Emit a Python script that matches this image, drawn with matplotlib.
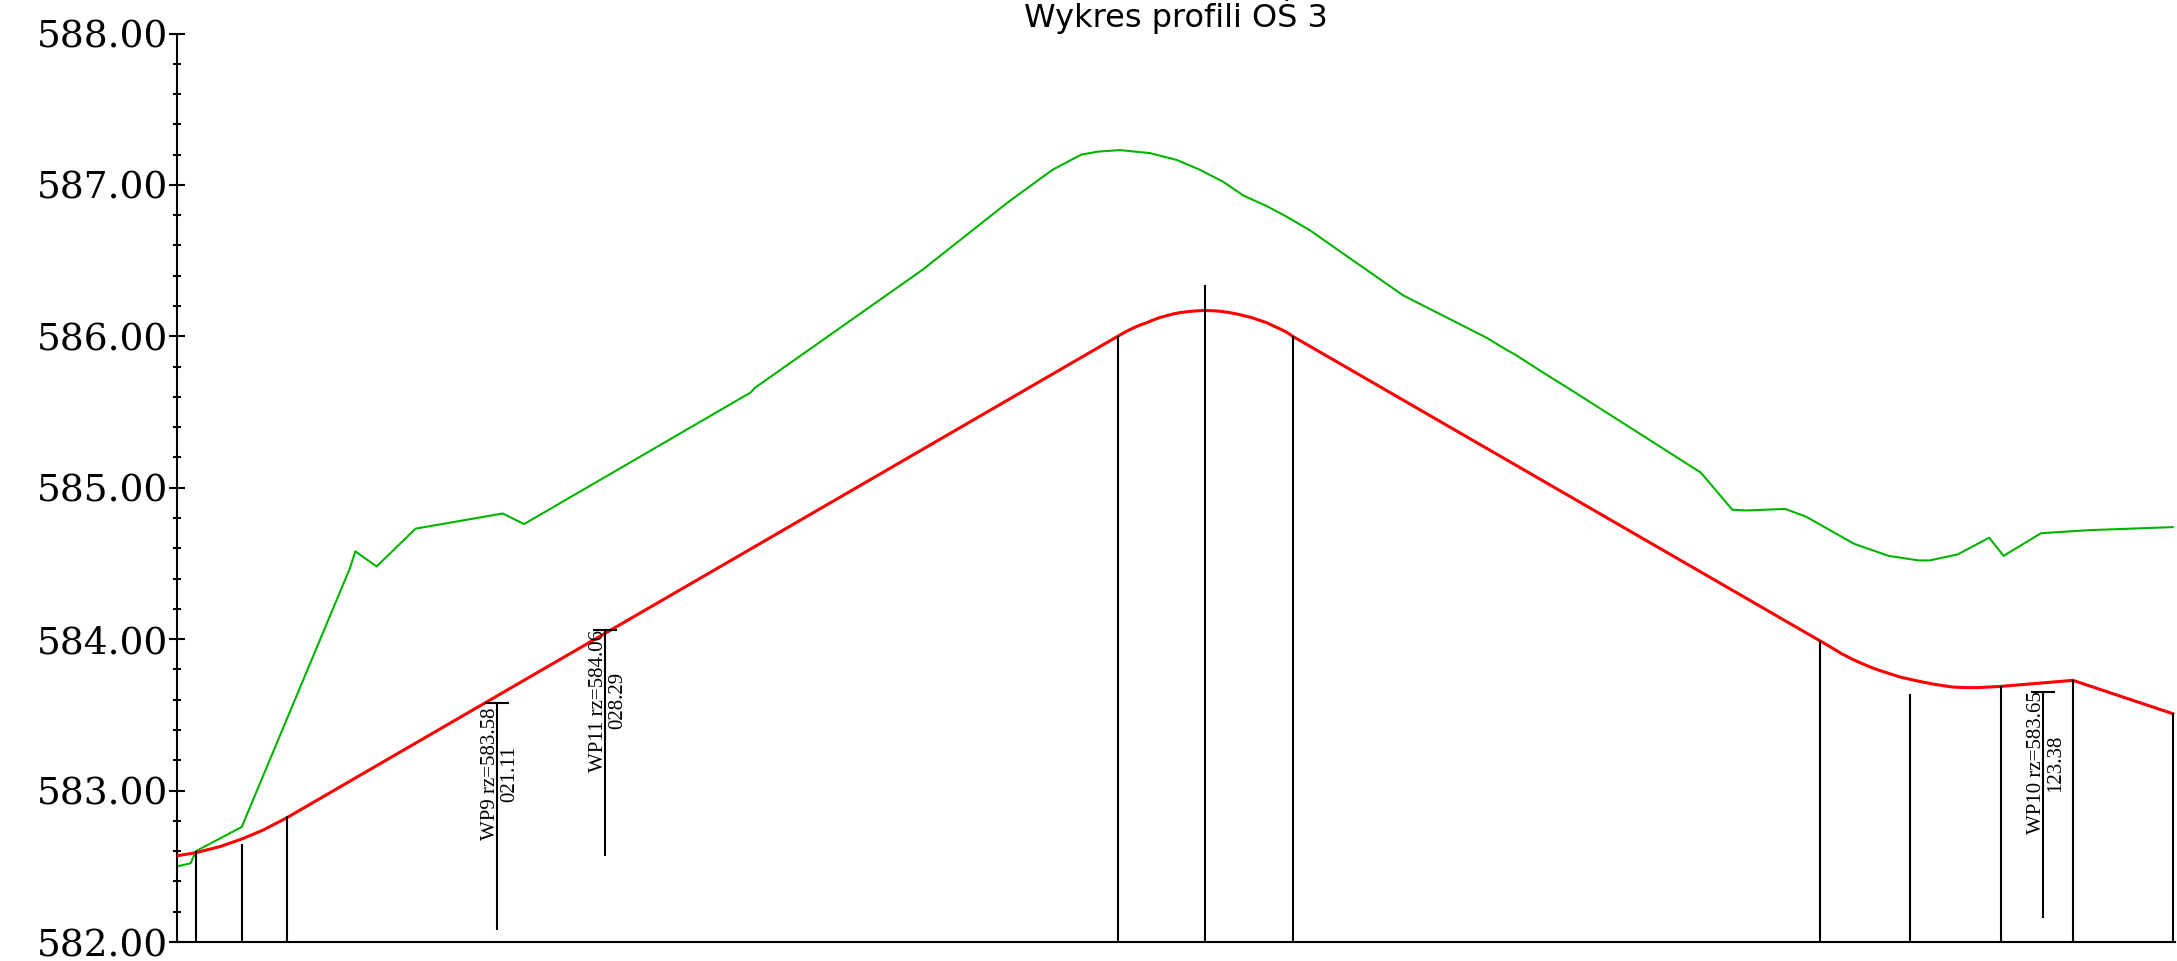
import matplotlib
matplotlib.use("Agg")
import matplotlib.pyplot as plt
from matplotlib.ticker import MultipleLocator, FormatStrFormatter

title = "Wykres profili OŚ 3"

# terrain profile (green): chainage [m], elevation [m]
terrain_x = [0.0, 0.87, 1.22, 4.25, 11.41, 11.76, 13.17, 15.75, 21.51, 22.92,
             37.92, 38.19, 49.28, 54.85, 57.87, 59.77, 60.89, 62.33, 64.32, 66.08,
             67.62, 69.17, 70.49, 72.04, 73.36, 74.90, 77.76, 81.07, 86.59, 87.91,
             88.46, 90.33, 92.10, 100.75, 102.83, 103.74, 106.32, 107.69, 110.88, 113.17,
             115.16, 115.88, 117.74, 119.82, 120.77, 123.25, 126.45, 131.96]
terrain_y = [582.50, 582.52, 582.60, 582.76, 584.47, 584.58, 584.48, 584.73, 584.83, 584.76,
             585.63, 585.66, 586.44, 586.88, 587.10, 587.20, 587.22, 587.23, 587.21, 587.165,
             587.10, 587.02, 586.93, 586.86, 586.79, 586.70, 586.50, 586.27, 585.99, 585.91,
             585.88, 585.76, 585.65, 585.10, 584.855, 584.85, 584.86, 584.81, 584.63, 584.55,
             584.52, 584.52, 584.56, 584.67, 584.55, 584.70, 584.72, 584.74]

# design grade line (red)
design_x = [0.0, 1.22, 2.81, 4.25, 5.68, 7.22, 62.18, 62.6, 63.0, 63.5, 64.1, 64.5, 65.0,
            65.4, 65.86, 66.4, 67.0, 67.5, 67.98, 68.5, 69.0, 69.5, 70.05, 70.5, 71.0,
            71.5, 72.04, 72.5, 73.0, 73.4, 73.76, 108.61,
            109.3, 110.06, 110.8, 111.5, 112.2, 112.95, 114.0, 115.17, 116.3, 117.39, 118.2, 119.06,
            120.57, 125.36, 131.96]
design_y = [582.57, 582.59, 582.63, 582.68, 582.74, 582.82, 586.00, 586.024, 586.045, 586.068,
            586.09, 586.107, 586.125, 586.136, 586.148, 586.158, 586.165, 586.169, 586.17,
            586.169, 586.165, 586.158, 586.148, 586.137, 586.125, 586.108, 586.09, 586.068,
            586.045, 586.024, 586.00, 583.99,
            583.95, 583.904, 583.866, 583.835, 583.806, 583.781, 583.748, 583.722, 583.70,
            583.684, 583.68, 583.68,
            583.688, 583.728, 583.508]

# station verticals
station_x = [1.22, 4.25, 7.22, 62.18, 67.98, 73.76, 108.61, 114.61, 120.57, 125.36, 131.96]
station_top = [582.60, 582.648, 582.83, 586.00, 586.34, 586.00, 583.99, 583.638, 583.69, 583.73, 583.51]

# wells / manholes
wp_names = ["WP9", "WP11", "WP10"]
wp_x = [21.11, 28.29, 123.38]
wp_rz = [583.58, 584.06, 583.65]
wp_bottom = [582.08, 582.566, 582.16]

ymin, ymax = 582.0, 588.0
xmax = 132.1

fig = plt.figure(figsize=(21.77, 9.61), dpi=100)
ax = fig.add_axes([0.08153, 0.01977, 0.91750, 0.94537])

ax.plot(terrain_x, terrain_y, color="#00b400", lw=1.5, zorder=2)
ax.plot(design_x, design_y, color="#ff0000", lw=2.2, zorder=3)
ax.vlines(station_x, ymin, station_top, color="black", lw=1.5, zorder=4, clip_on=False)
ax.vlines(wp_x, wp_bottom, wp_rz, color="black", lw=1.5, zorder=4)
ax.plot(wp_x, wp_rz, ls="none", marker="_", markersize=17, mew=1.5, color="black", zorder=4)

for name, x, rz in zip(wp_names, wp_x, wp_rz):
    ax.annotate(f"{name} rz={rz:.2f}", xy=(x, rz), xytext=(-1.5, -51),
                textcoords="offset points", rotation=90, rotation_mode="anchor",
                ha="center", va="baseline", fontsize=15, family="Liberation Serif")
    ax.annotate(f"{x:06.2f}", xy=(x, rz), xytext=(12.3, -51),
                textcoords="offset points", rotation=90, rotation_mode="anchor",
                ha="center", va="baseline", fontsize=15, family="Liberation Serif")

ax.set_xlim(0, xmax)
ax.set_ylim(ymin, ymax)
ax.set_xticks([])
ax.yaxis.set_major_locator(MultipleLocator(1.0))
ax.yaxis.set_minor_locator(MultipleLocator(0.2))
ax.yaxis.set_major_formatter(FormatStrFormatter("%.2f"))
ax.tick_params(axis="y", which="major", direction="inout", length=11.5, width=1.5,
               pad=1, labelsize=27, labelfontfamily="DejaVu Serif")
ax.tick_params(axis="y", which="minor", direction="inout", length=5.8, width=1.5)
for s in ("top", "right"):
    ax.spines[s].set_visible(False)
for s in ("left", "bottom"):
    ax.spines[s].set_linewidth(1.5)

ax.set_title(title, fontsize=23, pad=0, family="DejaVu Sans")

fig.savefig("out.png", dpi=100)
